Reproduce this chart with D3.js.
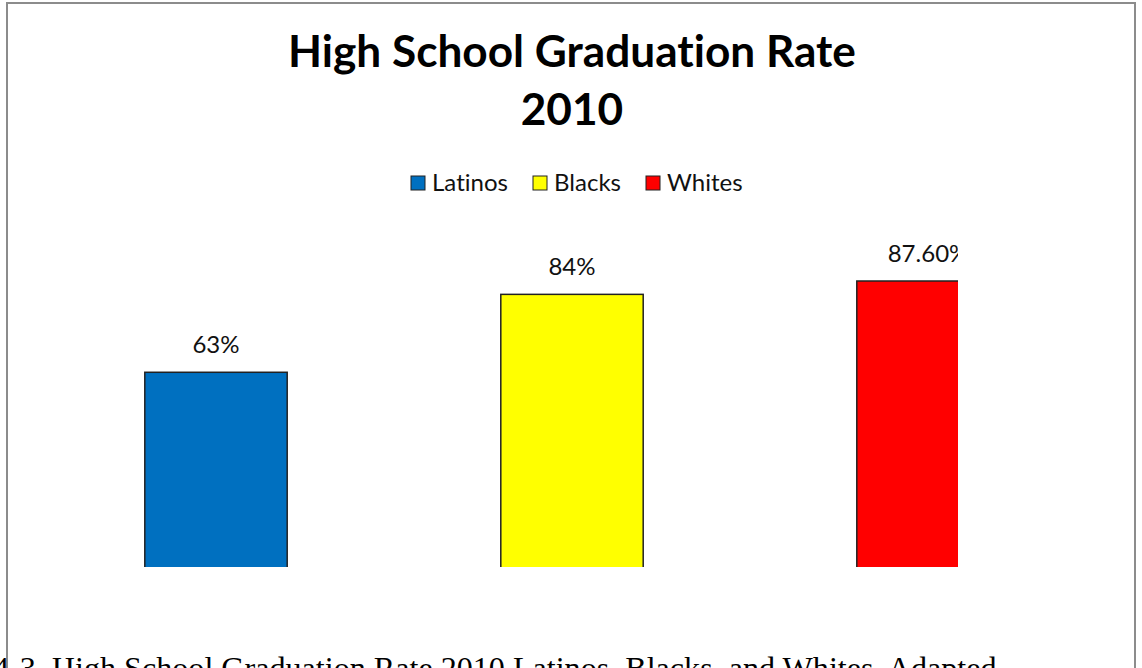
<!DOCTYPE html>
<html>
<head>
<meta charset="utf-8">
<script src="https://cdn.jsdelivr.net/npm/d3@7"></script>
<style>
  body { margin: 0; background: #fff; overflow: hidden; }
  svg { display: block; }
  text { font-variant-ligatures: none; }
</style>
</head>
<body>
<svg id="chart"></svg>
<script>
var groups = ["Latinos", "Blacks", "Whites"];
var rates = [63, 84, 87.6];
var rateLabels = ["63%", "84%", "87.60%"];
var colors = ["#0070c0", "#ffff00", "#ff0000"];
var titleLines = ["High School Graduation Rate", "2010"];
var caption = "4-3. High School Graduation Rate 2010 Latinos, Blacks, and Whites. Adapted";

var W = 1142, H = 668;
var font = "Lato, 'Open Sans', sans-serif";

var svg = d3.select("#chart").attr("width", W).attr("height", H);

// chart frame (runs off the bottom of the page)
svg.append("rect")
  .attr("x", 7).attr("y", 3)
  .attr("width", 1128).attr("height", 720)
  .style("fill", "none").style("stroke", "#8c8c8c").style("stroke-width", 2);

// fit a text to a given width by adjusting font size
function fit(sel, target) {
  var fs = parseFloat(sel.style("font-size"));
  var w = sel.node().getComputedTextLength();
  sel.style("font-size", (fs * target / w) + "px");
}

var t1 = svg.append("text")
  .attr("x", 572).attr("y", 67)
  .attr("text-anchor", "middle")
  .style("font-family", font).style("font-weight", "bold").style("font-size", "40px")
  .text(titleLines[0]);
fit(t1, 568);
var t2 = svg.append("text")
  .attr("x", 572).attr("y", 125)
  .attr("text-anchor", "middle")
  .style("font-family", font).style("font-weight", "bold")
  .style("font-size", t1.style("font-size"))
  .text(titleLines[1]);

// legend
var legendX = [411, 533, 646];
var legend = svg.append("g");
groups.forEach(function(g, i) {
  legend.append("rect")
    .attr("x", legendX[i]).attr("y", 176)
    .attr("width", 14).attr("height", 14)
    .style("fill", colors[i]).style("stroke", "#222").style("stroke-width", 1);
  legend.append("text")
    .attr("x", legendX[i] + 21).attr("y", 191)
    .style("font-family", font).style("font-size", "20px")
    .style("fill", "#111")
    .text(g);
});
var lts = legend.selectAll("text");
fit(d3.select(lts.nodes()[0]), 76);
lts.style("font-size", d3.select(lts.nodes()[0]).style("font-size"));

// plot
var x = d3.scaleBand().domain(groups).range([38, 1106])
  .paddingInner(0.6).paddingOuter(0.3);
var y = d3.scaleLinear().domain([0, 100]).range([606, 235]);

svg.append("clipPath").attr("id", "plotclip")
  .append("rect").attr("x", 0).attr("y", 0).attr("width", 958).attr("height", 567);

var plot = svg.append("g").attr("clip-path", "url(#plotclip)");

plot.selectAll("rect.bar")
  .data(groups)
  .enter().append("rect")
  .attr("class", "bar")
  .attr("x", function(d) { return x(d); })
  .attr("y", function(d, i) { return y(rates[i]); })
  .attr("width", x.bandwidth())
  .attr("height", function(d, i) { return y(0) - y(rates[i]); })
  .style("fill", function(d, i) { return colors[i]; })
  .style("stroke", "#222").style("stroke-width", 1.5);

plot.selectAll("text.lbl")
  .data(groups)
  .enter().append("text")
  .attr("class", "lbl")
  .attr("x", function(d) { return x(d) + x.bandwidth() / 2; })
  .attr("y", function(d, i) { return y(rates[i]) - 19; })
  .attr("text-anchor", "middle")
  .style("font-family", font)
  .style("font-size", lts.style("font-size"))
  .style("fill", "#111")
  .text(function(d, i) { return rateLabels[i]; });

// figure caption below the chart (cut off by the page edge, as in the source)
var cap = svg.append("text")
  .attr("x", -7).attr("y", 679)
  .style("font-family", "'Liberation Serif', 'Times New Roman', serif")
  .style("font-size", "32px")
  .style("fill", "#000")
  .text(caption);
fit(cap, 1004);
</script>
</body>
</html>
